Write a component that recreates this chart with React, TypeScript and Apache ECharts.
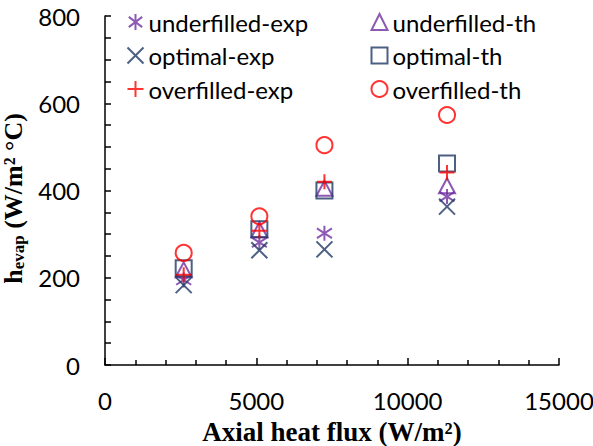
import React, { useEffect, useRef } from "react";
import * as echarts from "echarts";

const underfilledExp: [number, number][] = [[2600, 195], [5100, 281], [7250, 302], [11300, 386]];
const underfilledTh: [number, number][] = [[2600, 218], [5100, 310], [7250, 405], [11300, 411]];
const optimalExp: [number, number][] = [[2600, 183], [5100, 263], [7250, 265], [11300, 363]];
const optimalTh: [number, number][] = [[2600, 222], [5100, 311], [7250, 400], [11300, 462]];
const overfilledExp: [number, number][] = [[2600, 207], [5100, 308], [7250, 420], [11300, 441]];
const overfilledTh: [number, number][] = [[2600, 257], [5100, 341], [7250, 504], [11300, 573]];

const expNames = ["underfilled-exp", "optimal-exp", "overfilled-exp"];
const thNames = ["underfilled-th", "optimal-th", "overfilled-th"];

const PURPLE = "#7030A0";
const NAVY = "#1F3864";
const RED = "#FF0000";

const ASTERISK = "path://M5,0L5,10M0.8,1.8L9.2,8.2M9.2,1.8L0.8,8.2";
const CROSS = "path://M0,0L10,10M10,0L0,10";
const PLUS = "path://M5,0L5,10M0,5L10,5";

function mk(name: string, data: [number, number][], symbol: string, color: string, size: number | number[]) {
  return {
    name,
    type: "scatter",
    data,
    symbol,
    symbolSize: size,
    itemStyle: { color: "none", borderColor: color, borderWidth: 2 },
    emphasis: { disabled: true },
  };
}

export default function App() {
  const ref = useRef<HTMLDivElement>(null);
  useEffect(() => {
    if (!ref.current) return;
    const chart = echarts.init(ref.current, undefined, { renderer: "svg" });
    const labelFont = { fontFamily: "Lato", fontSize: 24, color: "#000" };
    const legendBase = {
      orient: "vertical",
      top: 9,
      padding: 0,
      itemWidth: 16,
      itemHeight: 16,
      itemGap: 7.5,
      selectedMode: false,
      textStyle: { ...labelFont, lineHeight: 26 },
    };
    chart.setOption({
      animation: false,
      backgroundColor: "#fff",
      grid: { left: 105, right: 34, top: 16, bottom: 81, containLabel: false, outerBoundsMode: "none" },
      legend: [
        { ...legendBase, left: 125, data: expNames },
        { ...legendBase, left: 369, data: thNames },
      ],
      xAxis: {
        type: "value",
        min: 0,
        max: 15000,
        interval: 5000,
        name: "Axial heat flux (W/m²)",
        nameLocation: "middle",
        nameGap: 53,
        nameTextStyle: { fontFamily: "Liberation Serif", fontWeight: "bold", fontSize: 27, color: "#000" },
        axisLine: { show: true, lineStyle: { color: "#000", width: 1.5 } },
        axisTick: { show: true, inside: true, length: 7, lineStyle: { color: "#000", width: 1.5 } },
        minorTick: { show: true, splitNumber: 5, length: 5, lineStyle: { color: "#000", width: 1.5 } },
        axisLabel: { ...labelFont, margin: 23, formatter: (v: number) => String(v) },
        splitLine: { show: false },
      },
      yAxis: {
        type: "value",
        min: 0,
        max: 800,
        interval: 200,
        name: "{b|h}{s|evap}{b| (W/m² °C)}",
        nameLocation: "middle",
        nameGap: 63,
        nameTextStyle: {
          color: "#000",
          padding: [0, 16, 0, 0],
          rich: {
            b: { fontFamily: "Liberation Serif", fontWeight: "bold", fontSize: 26, color: "#000", lineHeight: 28, verticalAlign: "middle" },
            s: { fontFamily: "Liberation Serif", fontWeight: "bold", fontSize: 17, color: "#000", lineHeight: 28, verticalAlign: "bottom" },
          },
        },
        axisLine: { show: true, lineStyle: { color: "#000", width: 1.5 } },
        axisTick: { show: true, inside: true, length: 6, lineStyle: { color: "#000", width: 1.5 } },
        minorTick: { show: true, splitNumber: 4, length: 6, lineStyle: { color: "#000", width: 1.5 } },
        axisLabel: { ...labelFont, margin: 25 },
        splitLine: { show: false },
      },
      series: [
        mk("underfilled-exp", underfilledExp, ASTERISK, PURPLE, 15),
        mk("underfilled-th", underfilledTh, "triangle", PURPLE, [16, 15]),
        mk("optimal-exp", optimalExp, CROSS, NAVY, 16),
        mk("optimal-th", optimalTh, "rect", NAVY, 16),
        mk("overfilled-exp", overfilledExp, PLUS, RED, 15),
        mk("overfilled-th", overfilledTh, "circle", RED, 16),
      ],
    });
    return () => chart.dispose();
  }, []);
  return (
    <div
      ref={ref}
      style={{ position: "fixed", left: 0, top: 0, width: 593, height: 446, background: "#fff" }}
    />
  );
}
